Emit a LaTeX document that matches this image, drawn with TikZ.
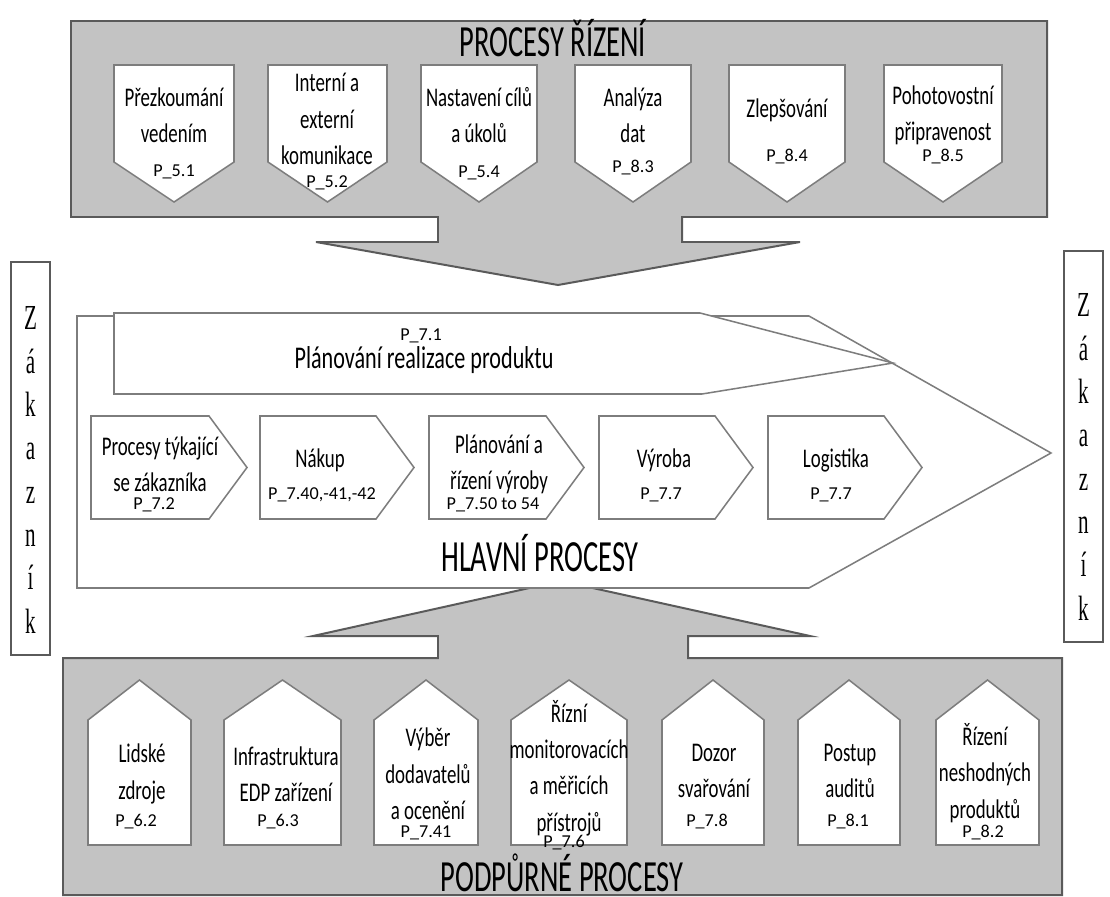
\documentclass[tikz,border=0pt]{standalone}
\usepackage{fontspec}
\setmainfont{Carlito}
\newfontfamily\boxfont{Carlito}[FakeStretch=0.7]
\newfontfamily\titlefont{Carlito}[FakeStretch=0.64]
\newfontfamily\zakfont{Liberation Serif}[FakeStretch=0.6]
\usepackage{tikz}
\usetikzlibrary{positioning}
\definecolor{procgray}{RGB}{195,195,195}
\definecolor{edgegray}{RGB}{90,90,90}
\definecolor{boxedge}{RGB}{125,125,125}

\begin{document}
\begin{tikzpicture}[x=0.03cm,y=-0.03cm,line join=miter,
    graybox/.style={fill=procgray,draw=edgegray,line width=1.7pt},
    whitebox/.style={fill=white,draw=boxedge,line width=1.3pt},
    txt/.style={font=\boxfont\fontsize{23}{31}\selectfont,align=center,inner sep=0pt},
    ptxt/.style={font=\fontsize{15.5}{18}\selectfont,inner sep=0pt},
    title/.style={font=\titlefont\fontsize{38}{42}\selectfont,inner sep=0pt,anchor=base},
    zak/.style={font=\zakfont\fontsize{30}{37}\selectfont,align=center,inner sep=0pt}]
    \useasboundingbox (0,0) rectangle (1110,897);

    % control processes with arrow down
    \draw[graybox] (71,21) -- (1047,21) -- (1047,217) -- (682,217) -- (682,242) -- (800,242)
        -- (558,285) -- (316,242) -- (438,242) -- (438,217) -- (71,217) -- cycle;
    % support processes with arrow up
    \draw[graybox] (63,658) -- (438,658) -- (438,636) -- (313,636) -- (561,581) -- (810,636)
        -- (688,636) -- (688,658) -- (1062,658) -- (1062,895) -- (63,895) -- cycle;
    % main processes
    \draw[whitebox] (77,316) -- (809,316) -- (1051,453) -- (809,588) -- (77,588) -- cycle;
    \draw[whitebox] (114,313) -- (700,313) -- (893,363) -- (702,394) -- (114,394) -- cycle;

    \foreach \x/\w in {91/118,260/116,429/117,599/116,768/116}
        \draw[whitebox] (\x,416) -- ++(\w,0) -- ++(38,51.5) -- ++(-38,51.5) -- ++(-\w,0) -- cycle;
    \foreach \x/\w in {114/120,268/119,421/116,575/116,729/116,884/118}
        \draw[whitebox] (\x,65) -- ++(\w,0) -- ++(0,97) -- ++(-\w/2,40) -- ++(-\w/2,-40) -- cycle;
    \foreach \x/\w in {88/103,224/117,374/104,511/116,662/102,798/102,936/103}
        \draw[whitebox] (\x,845) -- ++(0,-125) -- ++(\w/2,-40) -- ++(\w/2,40) -- ++(0,125) -- cycle;

    % titles
    \node[title] (ctrl) at (553,57) {PROCESY ŘÍZENÍ};
    \node[title] (main) at (540,571) {HLAVNÍ PROCESY};
    \node[title] (supp) at (562,891) {PODPŮRNÉ PROCESY};

    % top row
    \node[txt] (c1) at (174,115) {Přezkoumání\\vedením};
    \node[ptxt] (p1) at (174,172) {P\_5.1};
    \node[txt] (c2) at (327,119) {Interní a\\externí\\komunikace};
    \node[ptxt] (p2) at (327,183) {P\_5.2};
    \node[txt] (c3) at (479,115) {Nastavení cílů\\a úkolů};
    \node[ptxt] (p3) at (479,173) {P\_5.4};
    \node[txt] (c4) at (633,115) {Analýza\\dat};
    \node[ptxt] (p4) at (633,168) {P\_8.3};
    \node[txt] (c5) at (787,110) {Zlepšování};
    \node[ptxt] (p5) at (787,157) {P\_8.4};
    \node[txt] (c6) at (943,115) {Pohotovostní\\připravenost};
    \node[ptxt] (p6) at (943,157) {P\_8.5};

    % plan
    \node[ptxt] (p71) at (421,336) {P\_7.1};
    \node[txt,font=\boxfont\fontsize{27}{31}\selectfont] (plan) at (424,360) {Plánování realizace produktu};

    % main row
    \node[txt] (m1) at (160,464) {Procesy týkající\\se zákazníka};
    \node[ptxt] (q1) at (154,505) {P\_7.2};
    \node[txt] (m2) at (320,460) {Nákup};
    \node[ptxt] (q2) at (322,495) {P\_7.40,-41,-42};
    \node[txt] (m3) at (499,464) {Plánování a\\řízení výroby};
    \node[ptxt] (q3) at (493,505) {P\_7.50 to 54};
    \node[txt] (m4) at (664,460) {Výroba};
    \node[ptxt] (q4) at (661,495) {P\_7.7};
    \node[txt] (m5) at (836,460) {Logistika};
    \node[ptxt] (q5) at (831,495) {P\_7.7};

    % bottom row
    \node[txt] (s1) at (142,774) {Lidské\\zdroje};
    \node[ptxt] (r1) at (136,822) {P\_6.2};
    \node[txt] (s2) at (286,774) {Infrastruktura\\EDP zařízení};
    \node[ptxt] (r2) at (278,822) {P\_6.3};
    \node[txt] (s3) at (428,774) {Výběr\\dodavatelů\\a ocenění};
    \node[ptxt] (r3) at (426,833) {P\_7.41};
    \node[txt] (s4) at (569,768) {Řízní\\monitorovacích\\a měřicích\\přístrojů};
    \node[ptxt] (r4) at (564,843) {P\_7.6};
    \node[txt] (s5) at (714,771) {Dozor\\svařování};
    \node[ptxt] (r5) at (707,822) {P\_7.8};
    \node[txt] (s6) at (850,771) {Postup\\auditů};
    \node[ptxt] (r6) at (848,822) {P\_8.1};
    \node[txt] (s7) at (985,773) {Řízení\\neshodných\\produktů};
    \node[ptxt] (r7) at (983,833) {P\_8.2};

    % customer on both sides
    \draw[whitebox,draw=edgegray] (11,262) rectangle (50,655);
    \node[zak] (zl) at (30.5,470) {Z\\á\\k\\a\\z\\n\\í\\k};
    \draw[whitebox,draw=edgegray] (1064,251) rectangle (1103,642);
    \node[zak] (zr) at (1083.5,457) {Z\\á\\k\\a\\z\\n\\í\\k};
\end{tikzpicture}
\end{document}
